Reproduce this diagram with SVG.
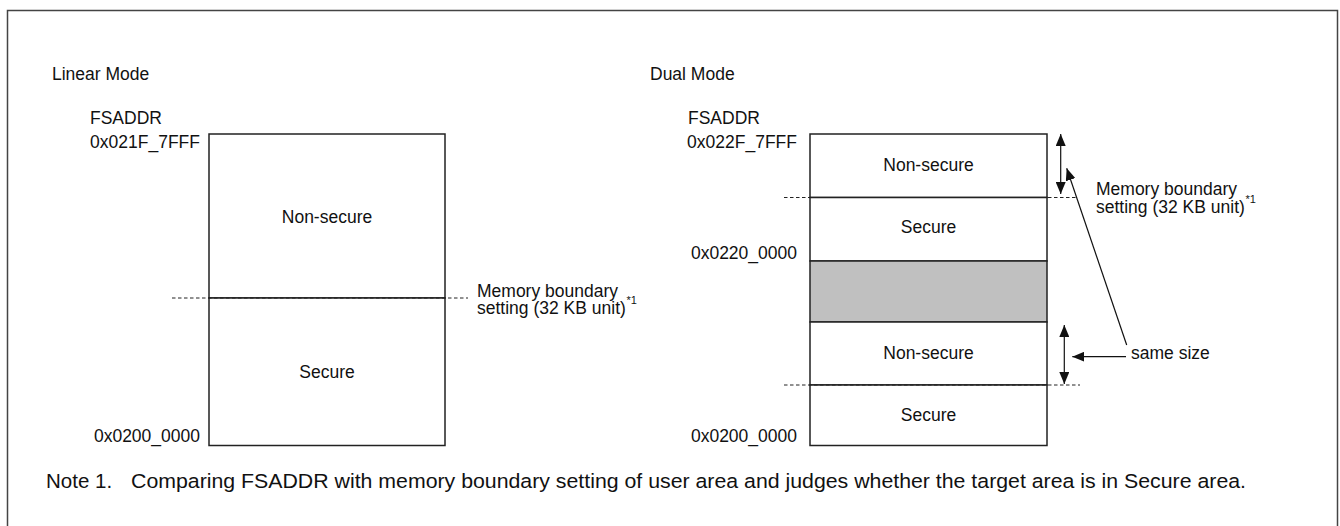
<svg xmlns="http://www.w3.org/2000/svg" width="1340" height="526" viewBox="0 0 1340 526">
<style>
text{font-family:"Liberation Sans",Arial,sans-serif;font-size:17.5px;fill:#111}
.sup{font-size:11px}
.note{font-size:20.5px}
.box{fill:#fff;stroke:#222;stroke-width:1.5}
.gray{fill:#c0c0c0;stroke:#222;stroke-width:1.5}
.dash{stroke:#222;stroke-width:1;stroke-dasharray:3.5 2.5;fill:none}
.arr{stroke:#111;stroke-width:1.2;fill:none}
.mid{text-anchor:middle}
.end{text-anchor:end}
</style>
<defs>
<marker id="ah" markerUnits="userSpaceOnUse" markerWidth="12" markerHeight="10" refX="12" refY="5" orient="auto-start-reverse">
<path d="M0,0 L12,5 L0,10 z" fill="#111"/>
</marker>
</defs>
<rect id="frame" x="7.5" y="10.5" width="1330" height="540" fill="#fff" stroke="#444" stroke-width="1.5"/>

<text id="title-linear" x="52" y="80">Linear Mode</text>
<text id="title-dual" x="650" y="80">Dual Mode</text>

<g id="linear">
<text x="90" y="124">FSADDR</text>
<text class="end" x="200" y="148">0x021F_7FFF</text>
<text class="end" x="200" y="442">0x0200_0000</text>
<g id="linear-nonsecure">
<rect class="box" x="209" y="134" width="236" height="164"/>
<text class="mid" x="327" y="223">Non-secure</text>
</g>
<g id="linear-secure">
<rect class="box" x="209" y="298" width="236" height="147.5"/>
<text class="mid" x="327" y="378">Secure</text>
</g>
<g id="linear-boundary-label">
<text x="477" y="296.5">Memory boundary</text>
<text x="477" y="313.5">setting (32 KB unit)</text>
<text class="sup" x="626.5" y="304">*1</text>
</g>
</g>

<g id="dual">
<text x="688" y="124">FSADDR</text>
<text class="end" x="797" y="148">0x022F_7FFF</text>
<text class="end" x="797" y="259">0x0220_0000</text>
<text class="end" x="797" y="442">0x0200_0000</text>
<g id="dual-nonsecure-1">
<rect class="box" x="810" y="134" width="237" height="63.5"/>
<text class="mid" x="928.5" y="171">Non-secure</text>
</g>
<g id="dual-secure-1">
<rect class="box" x="810" y="197.5" width="237" height="63.5"/>
<text class="mid" x="928.5" y="232.5">Secure</text>
</g>
<g id="dual-reserved">
<rect class="gray" x="810" y="261" width="237" height="61"/>
</g>
<g id="dual-nonsecure-2">
<rect class="box" x="810" y="322" width="237" height="63"/>
<text class="mid" x="928.5" y="358.5">Non-secure</text>
</g>
<g id="dual-secure-2">
<rect class="box" x="810" y="385" width="237" height="60.5"/>
<text class="mid" x="928.5" y="420.5">Secure</text>
</g>
<g id="dual-boundary-label">
<text x="1096" y="195">Memory boundary</text>
<text x="1096" y="212.5">setting (32 KB unit)</text>
<text class="sup" x="1245.5" y="203">*1</text>
</g>
<text id="same-size" x="1131" y="359">same size</text>
</g>

<g id="connectors">
<line class="dash" x1="172" y1="298" x2="468" y2="298"/>
<line class="dash" x1="784" y1="197.5" x2="1077" y2="197.5"/>
<line class="dash" x1="784" y1="385" x2="1080" y2="385"/>
<line class="arr" x1="1060.7" y1="134" x2="1060.7" y2="194" marker-start="url(#ah)" marker-end="url(#ah)"/>
<line class="arr" x1="1064.3" y1="325" x2="1064.3" y2="384" marker-start="url(#ah)" marker-end="url(#ah)"/>
<line class="arr" x1="1126.7" y1="345" x2="1066.7" y2="168.3" marker-end="url(#ah)"/>
<line class="arr" x1="1126" y1="356.7" x2="1072.3" y2="356.7" marker-end="url(#ah)"/>
</g>

<g id="note">
<text class="note" x="46" y="488">Note 1.</text>
<text class="note" x="131" y="488" textLength="1115" lengthAdjust="spacingAndGlyphs">Comparing FSADDR with memory boundary setting of user area and judges whether the target area is in Secure area.</text>
</g>
</svg>
